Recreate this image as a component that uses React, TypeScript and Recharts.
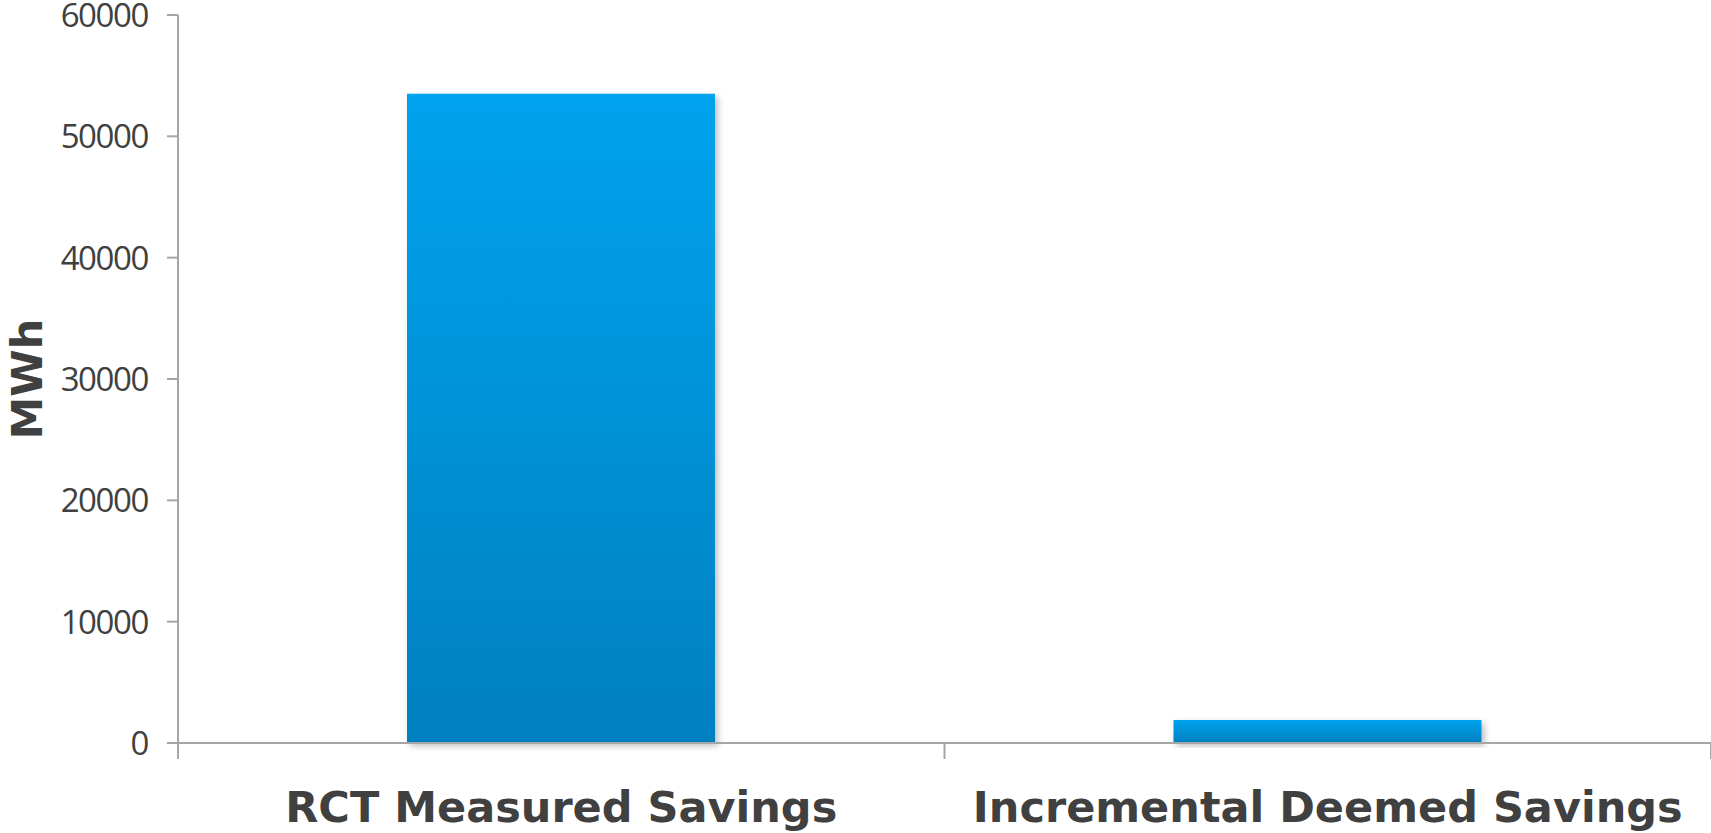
import React from 'react';
import { BarChart, Bar, XAxis, YAxis } from 'recharts';

const categories = ['RCT Measured Savings', 'Incremental Deemed Savings'];
const savingsMWh = [53500, 1900];
const yTicks = [0, 10000, 20000, 30000, 40000, 50000, 60000];
const yAxisTitle = 'MWh';

const data = categories.map((name, i) => ({ name, value: savingsMWh[i] }));

const W = 1711;
const H = 833;
const M = { top: 15, right: 0, left: 0, bottom: 0 };
const Y_W = 178;
const BAND = (W - M.left - M.right - Y_W) / categories.length;
const AXIS = '#A6A6A6';
const TEXT = '#404040';

function CatTick(props: any) {
  const { x, y, payload, index } = props;
  return (
    <g>
      {index === 0 && (
        <line x1={x - BAND / 2} x2={x - BAND / 2} y1={y} y2={y + 16} stroke={AXIS} strokeWidth={2} />
      )}
      <line x1={x + BAND / 2} x2={x + BAND / 2} y1={y} y2={y + 16} stroke={AXIS} strokeWidth={2} />
      <text
        x={x}
        y={y + 79}
        textAnchor="middle"
        fontFamily="'DejaVu Sans', sans-serif"
        fontWeight="bold"
        fontSize={43}
        fill={TEXT}
      >
        {payload.value}
      </text>
    </g>
  );
}

function ValTick(props: any) {
  const { x, y, payload } = props;
  return (
    <text
      x={x}
      y={y}
      dy="0.36em"
      textAnchor="end"
      fontFamily="'Open Sans', sans-serif"
      fontSize={33}
      letterSpacing={-1.4}
      fill={TEXT}
    >
      {payload.value}
    </text>
  );
}

function YTitle(props: any) {
  const { viewBox } = props;
  const cx = (viewBox?.x ?? 0) + 42;
  const cy = (viewBox?.y ?? 0) + (viewBox?.height ?? 0) / 2;
  return (
    <text
      x={cx}
      y={cy}
      transform={`rotate(-90, ${cx}, ${cy})`}
      textAnchor="middle"
      fontFamily="'DejaVu Sans', sans-serif"
      fontWeight="bold"
      fontSize={43}
      fill={TEXT}
    >
      {yAxisTitle}
    </text>
  );
}

export default function App() {
  return (
    <div style={{ position: 'absolute', left: 0, top: 0, width: W, height: H, background: '#fff' }}>
      <BarChart width={W} height={H} data={data} margin={M}>
        <defs>
          <linearGradient id="barGrad" x1="0" y1="0" x2="0" y2="1">
            <stop offset="0%" stopColor="#00A3EE" />
            <stop offset="100%" stopColor="#0080C0" />
          </linearGradient>
          <filter id="barShadow" x="-10%" y="-10%" width="130%" height="130%">
            <feDropShadow dx="3" dy="3" stdDeviation="3" floodColor="#000" floodOpacity="0.25" />
          </filter>
        </defs>
        <XAxis
          dataKey="name"
          height={90}
          axisLine={{ stroke: AXIS, strokeWidth: 2 }}
          tickLine={false}
          tickSize={0}
          tickMargin={0}
          tick={<CatTick />}
          interval={0}
        />
        <YAxis
          width={Y_W}
          domain={[0, 60000]}
          ticks={yTicks}
          interval={0}
          axisLine={{ stroke: AXIS, strokeWidth: 2 }}
          tickLine={{ stroke: AXIS, strokeWidth: 2 }}
          tickSize={11}
          tickMargin={19}
          tick={<ValTick />}
          label={<YTitle />}
        />
        <Bar
          dataKey="value"
          barSize={308}
          fill="url(#barGrad)"
          style={{ filter: 'url(#barShadow)' }}
          isAnimationActive={false}
        />
      </BarChart>
    </div>
  );
}
